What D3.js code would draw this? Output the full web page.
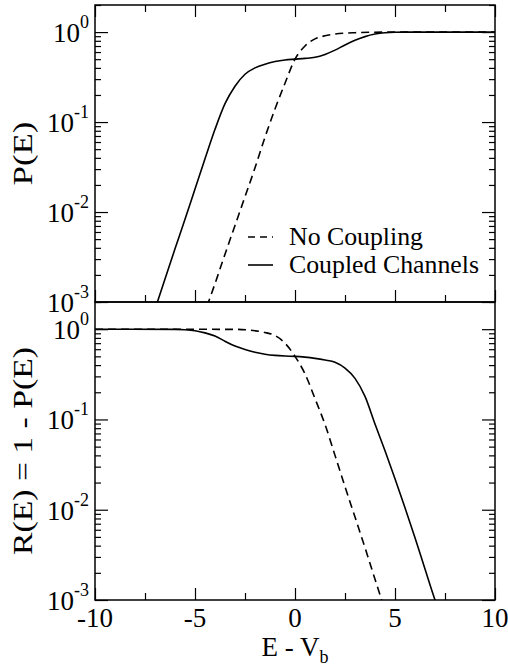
<!DOCTYPE html>
<html>
<head>
<meta charset="utf-8">
<script src="https://cdn.jsdelivr.net/npm/d3@7"></script>
<style>
  body { margin: 0; background: #fff; }
  text { font-family: "Liberation Serif", "Times New Roman", "DejaVu Serif", serif; }
</style>
</head>
<body>
<svg width="508" height="669"></svg>
<script>
'use strict';

// x ticks
const xMajor = [-10, -5, 0, 5, 10];
const xMinor = [-7.5, -2.5, 2.5, 7.5];
const yMajor = [1e-3, 1e-2, 1e-1, 1];
const yExp = ["-3", "-2", "-1", "0"];

// top panel, P(E)
const eNoCoupP = [-4.4, -4, -3.5, -3, -2.5, -2, -1.5, -1, -0.5, 0, 0.5, 1, 1.5, 2, 3, 4, 5, 10];
const pNoCoup = [0.0009, 0.0016, 0.0034, 0.0071, 0.0148, 0.031, 0.068, 0.14, 0.27, 0.5, 0.70, 0.84, 0.91, 0.95, 0.985, 0.996, 1, 1];
const eCoupP = [-7, -6.5, -6, -5.5, -5, -4.5, -4, -3.5, -3, -2.5, -2, -1.5, -1, -0.5, 0, 0.5, 1, 1.5, 2, 2.5, 3, 3.5, 4, 4.5, 5, 6, 10];
const pCoup = [0.00083, 0.0018, 0.0039, 0.0083, 0.018, 0.039, 0.083, 0.16, 0.25, 0.34, 0.40, 0.44, 0.47, 0.49, 0.50, 0.51, 0.525, 0.565, 0.63, 0.72, 0.81, 0.89, 0.95, 0.985, 0.997, 1, 1];

// bottom panel, R(E) = 1 - P(E)
const eNoCoupR = [-10, -3, -2, -1.5, -1, -0.5, 0, 0.5, 1, 1.5, 2, 2.5, 3, 3.5, 4, 4.5];
const rNoCoup = [1, 0.995, 0.96, 0.92, 0.85, 0.70, 0.50, 0.32, 0.17, 0.088, 0.040, 0.018, 0.0083, 0.0038, 0.00170, 0.00077];
const eCoupR = [-10, -6, -5.5, -5, -4.5, -4, -3.5, -3, -2.5, -2, -1.5, -1, -0.5, 0, 0.5, 1, 1.5, 2, 2.5, 3, 3.5, 4, 4.5, 5, 5.5, 6, 6.5, 7, 7.2];
const rCoup = [1, 0.995, 0.985, 0.96, 0.91, 0.84, 0.735, 0.65, 0.595, 0.555, 0.528, 0.512, 0.504, 0.50, 0.49, 0.475, 0.455, 0.43, 0.37, 0.285, 0.18, 0.089, 0.045, 0.022, 0.0105, 0.0049, 0.0022, 0.0010, 0.00075];

const svg = d3.select("svg");

const left = 95, right = 495;
const topPanel = {top: 5, bottom: 302};
const botPanel = {top: 302, bottom: 600};

const x = d3.scaleLinear().domain([-10, 10]).range([left, right]);
const yTop = d3.scaleLog().domain([1e-3, 2]).range([topPanel.bottom, topPanel.top]);
const yBot = d3.scaleLog().domain([1e-3, 2]).range([botPanel.bottom, botPanel.top]);

const yMinor = [];
[1e-3, 1e-2, 1e-1, 1].forEach(d => {
    for (let k = 2; k <= 9; k++) if (d * k <= 2) yMinor.push(d * k);
});

function ticks(g, axis, values, size) {
    g.call(axis.tickValues(values).tickSize(size).tickFormat(""))
        .call(s => s.select(".domain").remove())
        .call(s => s.selectAll("line").attr("stroke", "#000").attr("stroke-width", 1.2));
}

function panel(y, p, topTicks) {
    const g = svg.append("g");
    g.append("g").attr("transform", `translate(0,${p.bottom})`).call(ticks, d3.axisBottom(x), xMajor, -12);
    g.append("g").attr("transform", `translate(0,${p.bottom})`).call(ticks, d3.axisBottom(x), xMinor, -7);
    if (topTicks) {
        g.append("g").attr("transform", `translate(0,${p.top})`).call(ticks, d3.axisTop(x), xMajor, -12);
        g.append("g").attr("transform", `translate(0,${p.top})`).call(ticks, d3.axisTop(x), xMinor, -7);
    }
    g.append("g").attr("transform", `translate(${left},0)`).call(ticks, d3.axisLeft(y), yMajor, -13);
    g.append("g").attr("transform", `translate(${left},0)`).call(ticks, d3.axisLeft(y), yMinor, -6);
    g.append("g").attr("transform", `translate(${right},0)`).call(ticks, d3.axisRight(y), yMajor, -13);
    g.append("g").attr("transform", `translate(${right},0)`).call(ticks, d3.axisRight(y), yMinor, -6);

    g.append("rect")
        .attr("x", left).attr("y", p.top)
        .attr("width", right - left).attr("height", p.bottom - p.top)
        .attr("fill", "none").attr("stroke", "#000").attr("stroke-width", 1.5);

    // y tick labels 10^n
    yMajor.forEach((v, i) => {
        const t = g.append("text")
            .attr("x", left - 6)
            .attr("y", y(v) + 10)
            .attr("text-anchor", "end")
            .attr("font-size", 27);
        t.append("tspan").text("10");
        t.append("tspan").attr("dy", -14).attr("font-size", 18).text(yExp[i]);
    });
    return g;
}

svg.append("clipPath").attr("id", "clipT").append("rect")
    .attr("x", left).attr("y", topPanel.top).attr("width", right - left).attr("height", topPanel.bottom - topPanel.top);
svg.append("clipPath").attr("id", "clipB").append("rect")
    .attr("x", left).attr("y", botPanel.top).attr("width", right - left).attr("height", botPanel.bottom - botPanel.top);

function curve(es, vs, y, clip, dashed) {
    const line = d3.line()
        .x(d => x(d[0]))
        .y(d => y(d[1]))
        .curve(d3.curveMonotoneX);
    svg.append("path")
        .attr("clip-path", `url(#${clip})`)
        .attr("d", line(es.map((e, i) => [e, vs[i]])))
        .attr("fill", "none")
        .attr("stroke", "#000")
        .attr("stroke-width", 1.6)
        .attr("stroke-dasharray", dashed ? "8,5" : null);
}

curve(eNoCoupP, pNoCoup, yTop, "clipT", true);
curve(eCoupP, pCoup, yTop, "clipT", false);
curve(eNoCoupR, rNoCoup, yBot, "clipB", true);
curve(eCoupR, rCoup, yBot, "clipB", false);

panel(yTop, topPanel, true);
panel(yBot, botPanel, false);

// x tick labels
svg.append("g").selectAll("text")
    .data(xMajor)
    .join("text")
    .attr("x", d => x(d))
    .attr("y", 627)
    .attr("text-anchor", "middle")
    .attr("font-size", 27)
    .text(d => d < 0 ? "-" + Math.abs(d) : d);

// axis labels
const xl = svg.append("text")
    .attr("x", 295).attr("y", 656)
    .attr("text-anchor", "middle")
    .attr("font-size", 27);
xl.append("tspan").text("E - V");
xl.append("tspan").attr("dy", 7).attr("font-size", 18).text("b");

svg.append("text")
    .attr("transform", `translate(32,${(topPanel.top + topPanel.bottom) / 2}) rotate(-90)`)
    .attr("text-anchor", "middle")
    .attr("font-size", 28)
    .attr("textLength", 64)
    .attr("lengthAdjust", "spacingAndGlyphs")
    .text("P(E)");

svg.append("text")
    .attr("transform", `translate(32,${(botPanel.top + botPanel.bottom) / 2}) rotate(-90)`)
    .attr("text-anchor", "middle")
    .attr("font-size", 28)
    .attr("textLength", 208)
    .attr("lengthAdjust", "spacingAndGlyphs")
    .text("R(E) = 1 - P(E)");

// legend
const legend = [
    {label: "No Coupling", dash: "7,5", y: 237, len: 134},
    {label: "Coupled Channels", dash: null, y: 265, len: 190}
];
legend.forEach(d => {
    svg.append("line")
        .attr("x1", 248).attr("x2", 273)
        .attr("y1", d.y).attr("y2", d.y)
        .attr("stroke", "#000").attr("stroke-width", 1.6)
        .attr("stroke-dasharray", d.dash);
    svg.append("text")
        .attr("x", 289).attr("y", d.y + 8)
        .attr("font-size", 25)
        .attr("textLength", d.len)
        .attr("lengthAdjust", "spacingAndGlyphs")
        .text(d.label);
});
</script>
</body>
</html>
